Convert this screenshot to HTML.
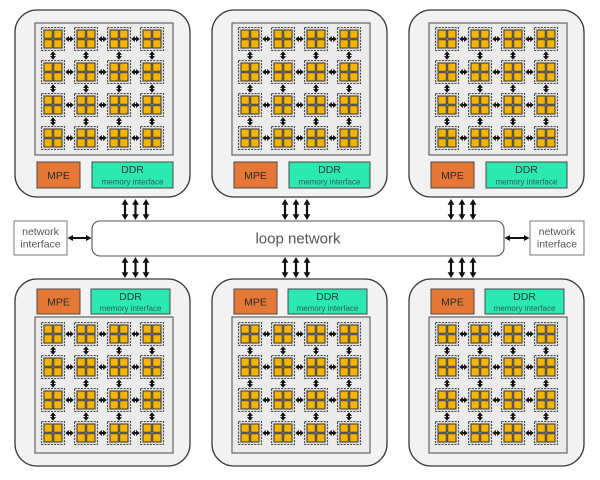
<!DOCTYPE html>
<html>
<head>
<meta charset="utf-8">
<style>
  html, body { margin: 0; padding: 0; background: #ffffff; }
  body { width: 600px; height: 480px; overflow: hidden; }
  svg { display: block; }
  .t { font-family: "Liberation Sans", Arial, sans-serif; }
</style>
</head>
<body>
<svg width="600" height="480" viewBox="0 0 600 480" xmlns="http://www.w3.org/2000/svg">
  <defs>
    <g id="tile">
      <rect x="0.5" y="0.5" width="23" height="23" fill="#dedede" stroke="#444" stroke-width="1.1" stroke-dasharray="2 1.2"/>
      <rect x="3" y="3" width="8.3" height="8.3" fill="#f5b400" stroke="#333" stroke-width="1"/>
      <rect x="12.7" y="3" width="8.3" height="8.3" fill="#f5b400" stroke="#333" stroke-width="1"/>
      <rect x="3" y="12.7" width="8.3" height="8.3" fill="#f5b400" stroke="#333" stroke-width="1"/>
      <rect x="12.7" y="12.7" width="8.3" height="8.3" fill="#f5b400" stroke="#333" stroke-width="1"/>
    </g>
    <g id="ha">
      <path d="M24.3 12 l3.6 -3 v6 z M32.7 12 l-3.6 -3 v6 z" fill="#111"/>
      <path d="M27 12 h3" stroke="#111" stroke-width="2"/>
    </g>
    <g id="va">
      <path d="M12 24.3 l-3 3.6 h6 z M12 32.7 l-3 -3.6 h6 z" fill="#111"/>
      <path d="M12 27 v3" stroke="#111" stroke-width="2"/>
    </g>
    <g id="row">
      <use href="#tile" x="0" y="0"/>
      <use href="#tile" x="33" y="0"/>
      <use href="#tile" x="66" y="0"/>
      <use href="#tile" x="99" y="0"/>
      <use href="#ha" x="0" y="0"/>
      <use href="#ha" x="33" y="0"/>
      <use href="#ha" x="66" y="0"/>
    </g>
    <g id="vrow">
      <use href="#va" x="0" y="0"/>
      <use href="#va" x="33" y="0"/>
      <use href="#va" x="66" y="0"/>
      <use href="#va" x="99" y="0"/>
    </g>
    <g id="grid">
      <use href="#row" x="0" y="0"/>
      <use href="#row" x="0" y="33"/>
      <use href="#row" x="0" y="66"/>
      <use href="#row" x="0" y="99"/>
      <use href="#vrow" x="0" y="0"/>
      <use href="#vrow" x="0" y="33"/>
      <use href="#vrow" x="0" y="66"/>
    </g>
    <g id="bigv">
      <path d="M0 0 l-3.4 5.8 h6.8 z M0 21 l-3.4 -5.8 h6.8 z" fill="#111"/>
      <path d="M0 4 v13" stroke="#111" stroke-width="2.2"/>
    </g>
  </defs>

  <!-- ===== TOP MODULES ===== -->
  <rect x="15" y="10" width="175" height="187" rx="22" fill="#f2f2f2" stroke="#3a3a3a" stroke-width="1.3"/>
  <rect x="35" y="23" width="138" height="132" fill="#ebebeb" stroke="#666" stroke-width="1.2"/>
  <use href="#grid" x="41" y="27"/>
  <rect x="37" y="162" width="43" height="26" fill="#e57836" stroke="#4a4a4a" stroke-width="1"/>
  <text class="t" x="58.5" y="179" font-size="10.5" text-anchor="middle" fill="#2a2a2a">MPE</text>
  <rect x="92" y="162" width="81" height="26" fill="#2ce9b2" stroke="#4a4a4a" stroke-width="1"/>
  <text class="t" x="132.5" y="173" font-size="10.5" text-anchor="middle" fill="#1f3a32">DDR</text>
  <text class="t" x="132.5" y="184.5" font-size="8" text-anchor="middle" fill="#2f5f50">memory interface</text>

  <rect x="212" y="10" width="175" height="187" rx="22" fill="#f2f2f2" stroke="#3a3a3a" stroke-width="1.3"/>
  <rect x="232" y="23" width="138" height="132" fill="#ebebeb" stroke="#666" stroke-width="1.2"/>
  <use href="#grid" x="238" y="27"/>
  <rect x="234" y="162" width="43" height="26" fill="#e57836" stroke="#4a4a4a" stroke-width="1"/>
  <text class="t" x="255.5" y="179" font-size="10.5" text-anchor="middle" fill="#2a2a2a">MPE</text>
  <rect x="289" y="162" width="81" height="26" fill="#2ce9b2" stroke="#4a4a4a" stroke-width="1"/>
  <text class="t" x="329.5" y="173" font-size="10.5" text-anchor="middle" fill="#1f3a32">DDR</text>
  <text class="t" x="329.5" y="184.5" font-size="8" text-anchor="middle" fill="#2f5f50">memory interface</text>

  <rect x="409" y="10" width="175" height="187" rx="22" fill="#f2f2f2" stroke="#3a3a3a" stroke-width="1.3"/>
  <rect x="429" y="23" width="138" height="132" fill="#ebebeb" stroke="#666" stroke-width="1.2"/>
  <use href="#grid" x="435" y="27"/>
  <rect x="431" y="162" width="43" height="26" fill="#e57836" stroke="#4a4a4a" stroke-width="1"/>
  <text class="t" x="452.5" y="179" font-size="10.5" text-anchor="middle" fill="#2a2a2a">MPE</text>
  <rect x="486" y="162" width="81" height="26" fill="#2ce9b2" stroke="#4a4a4a" stroke-width="1"/>
  <text class="t" x="526.5" y="173" font-size="10.5" text-anchor="middle" fill="#1f3a32">DDR</text>
  <text class="t" x="526.5" y="184.5" font-size="8" text-anchor="middle" fill="#2f5f50">memory interface</text>

  <!-- ===== BOTTOM MODULES ===== -->
  <rect x="15" y="279" width="175" height="187" rx="22" fill="#f2f2f2" stroke="#3a3a3a" stroke-width="1.3"/>
  <rect x="37" y="289" width="43" height="25" fill="#e57836" stroke="#4a4a4a" stroke-width="1"/>
  <text class="t" x="58.5" y="305.5" font-size="10.5" text-anchor="middle" fill="#2a2a2a">MPE</text>
  <rect x="91" y="289" width="79" height="25" fill="#2ce9b2" stroke="#4a4a4a" stroke-width="1"/>
  <text class="t" x="130.5" y="300" font-size="10.5" text-anchor="middle" fill="#1f3a32">DDR</text>
  <text class="t" x="130.5" y="311" font-size="8" text-anchor="middle" fill="#2f5f50">memory interface</text>
  <rect x="35" y="317" width="138" height="136" fill="#ebebeb" stroke="#666" stroke-width="1.2"/>
  <use href="#grid" x="41" y="322"/>

  <rect x="212" y="279" width="175" height="187" rx="22" fill="#f2f2f2" stroke="#3a3a3a" stroke-width="1.3"/>
  <rect x="234" y="289" width="43" height="25" fill="#e57836" stroke="#4a4a4a" stroke-width="1"/>
  <text class="t" x="255.5" y="305.5" font-size="10.5" text-anchor="middle" fill="#2a2a2a">MPE</text>
  <rect x="288" y="289" width="79" height="25" fill="#2ce9b2" stroke="#4a4a4a" stroke-width="1"/>
  <text class="t" x="327.5" y="300" font-size="10.5" text-anchor="middle" fill="#1f3a32">DDR</text>
  <text class="t" x="327.5" y="311" font-size="8" text-anchor="middle" fill="#2f5f50">memory interface</text>
  <rect x="232" y="317" width="138" height="136" fill="#ebebeb" stroke="#666" stroke-width="1.2"/>
  <use href="#grid" x="238" y="322"/>

  <rect x="409" y="279" width="175" height="187" rx="22" fill="#f2f2f2" stroke="#3a3a3a" stroke-width="1.3"/>
  <rect x="431" y="289" width="43" height="25" fill="#e57836" stroke="#4a4a4a" stroke-width="1"/>
  <text class="t" x="452.5" y="305.5" font-size="10.5" text-anchor="middle" fill="#2a2a2a">MPE</text>
  <rect x="485" y="289" width="79" height="25" fill="#2ce9b2" stroke="#4a4a4a" stroke-width="1"/>
  <text class="t" x="524.5" y="300" font-size="10.5" text-anchor="middle" fill="#1f3a32">DDR</text>
  <text class="t" x="524.5" y="311" font-size="8" text-anchor="middle" fill="#2f5f50">memory interface</text>
  <rect x="429" y="317" width="138" height="136" fill="#ebebeb" stroke="#666" stroke-width="1.2"/>
  <use href="#grid" x="435" y="322"/>

  <!-- ===== LOOP NETWORK ===== -->
  <rect x="92" y="221" width="412" height="35" rx="8" fill="#ffffff" stroke="#555" stroke-width="1.1"/>
  <text class="t" x="298" y="243.5" font-size="15" text-anchor="middle" fill="#555">loop network</text>

  <rect x="14" y="221" width="53" height="34" fill="#ffffff" stroke="#777" stroke-width="1"/>
  <text class="t" x="40.5" y="235" font-size="10.5" text-anchor="middle" fill="#555">network</text>
  <text class="t" x="40.5" y="247.5" font-size="10.5" text-anchor="middle" fill="#555">interface</text>

  <rect x="530" y="221" width="54" height="34" fill="#ffffff" stroke="#777" stroke-width="1"/>
  <text class="t" x="557" y="235" font-size="10.5" text-anchor="middle" fill="#555">network</text>
  <text class="t" x="557" y="247.5" font-size="10.5" text-anchor="middle" fill="#555">interface</text>

  <path d="M67.5 238 l5.5 -3 v6 z M91.5 238 l-5.5 -3 v6 z" fill="#111"/>
  <path d="M71 238 h17" stroke="#111" stroke-width="2"/>
  <path d="M504.5 238 l5.5 -3 v6 z M529.5 238 l-5.5 -3 v6 z" fill="#111"/>
  <path d="M508 238 h18" stroke="#111" stroke-width="2"/>

  <use href="#bigv" x="125" y="199"/>
  <use href="#bigv" x="135.5" y="199"/>
  <use href="#bigv" x="146" y="199"/>
  <use href="#bigv" x="285" y="199"/>
  <use href="#bigv" x="296" y="199"/>
  <use href="#bigv" x="307" y="199"/>
  <use href="#bigv" x="451" y="199"/>
  <use href="#bigv" x="462" y="199"/>
  <use href="#bigv" x="473" y="199"/>

  <use href="#bigv" x="125" y="257"/>
  <use href="#bigv" x="135.5" y="257"/>
  <use href="#bigv" x="146" y="257"/>
  <use href="#bigv" x="285" y="257"/>
  <use href="#bigv" x="296" y="257"/>
  <use href="#bigv" x="307" y="257"/>
  <use href="#bigv" x="451" y="257"/>
  <use href="#bigv" x="462" y="257"/>
  <use href="#bigv" x="473" y="257"/>
</svg>
</body>
</html>
